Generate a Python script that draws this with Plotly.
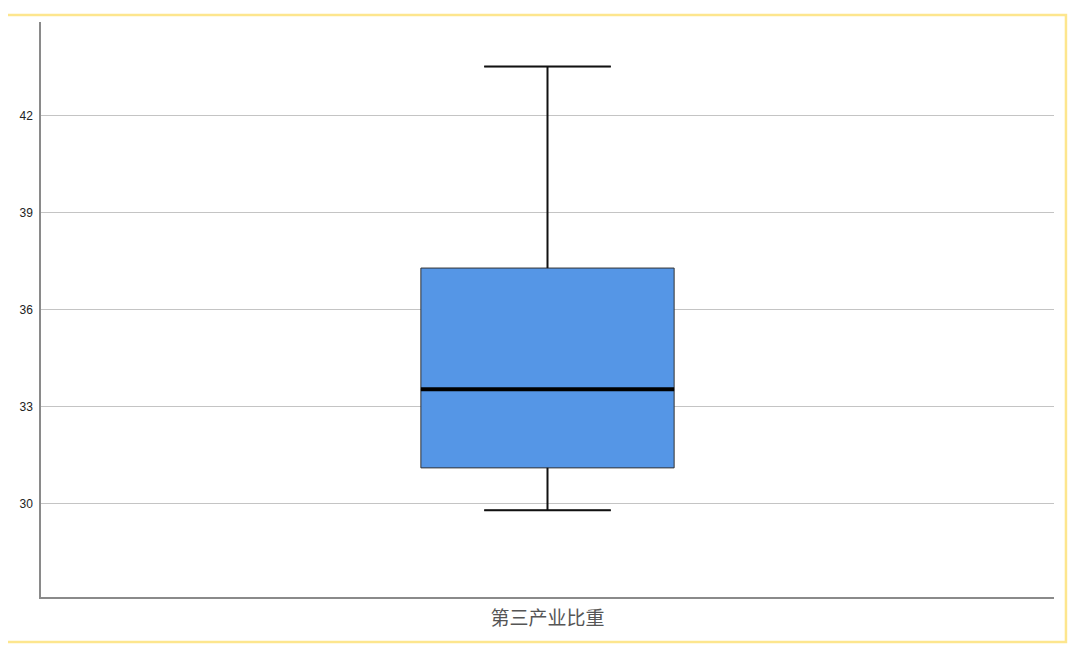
import plotly.graph_objects as go

category = ["第三产业比重"]
q1 = [31.10]
median = [33.53]
q3 = [37.28]
lower_whisker = [29.79]
upper_whisker = [43.51]
y_ticks = [30, 33, 36, 39, 42]

BOX_W = 0.25
CAP_W = BOX_W / 2

fig = go.Figure()
fig.add_trace(go.Box(
    x=[0],
    q1=q1, median=median, q3=q3,
    lowerfence=lower_whisker, upperfence=upper_whisker,
    width=BOX_W, whiskerwidth=0.5,
    fillcolor="#5596E6",
    line=dict(color="#333333", width=1),
    boxpoints=False,
    showlegend=False,
    hoverinfo="skip",
))
# whiskers (thicker, black)
for lo, hi in [(q3[0], upper_whisker[0]), (lower_whisker[0], q1[0])]:
    fig.add_trace(go.Scatter(
        x=[0, 0], y=[lo, hi], mode="lines",
        line=dict(color="#111111", width=2),
        showlegend=False, hoverinfo="skip",
    ))
for v in [upper_whisker[0], lower_whisker[0]]:
    fig.add_trace(go.Scatter(
        x=[-CAP_W / 2, CAP_W / 2], y=[v, v], mode="lines",
        line=dict(color="#111111", width=2),
        showlegend=False, hoverinfo="skip",
    ))
# thick median line overlay
fig.add_trace(go.Scatter(
    x=[-BOX_W / 2, BOX_W / 2], y=[median[0], median[0]],
    mode="lines", line=dict(color="#000000", width=4),
    showlegend=False, hoverinfo="skip",
))

fig.update_layout(
    width=1078, height=640,
    margin=dict(l=33, r=32, t=14, b=51),
    paper_bgcolor="white", plot_bgcolor="white",
    xaxis=dict(
        range=[-0.5, 0.5],
        tickmode="array", tickvals=[0], ticktext=category,
        showgrid=False, zeroline=False,
        showline=True, linecolor="#8a8a8a", linewidth=1.5,
        ticks="", ticklabelstandoff=3,
        tickfont=dict(family="Noto Sans CJK SC", size=19, color="#555555"),
        fixedrange=True,
    ),
    yaxis=dict(
        range=[27.107, 44.89],
        tickmode="array", tickvals=y_ticks,
        showgrid=True, gridcolor="#C4C4C4", gridwidth=1.2,
        zeroline=False,
        showline=True, linecolor="#8a8a8a", linewidth=1.5,
        ticks="", ticklabelstandoff=4,
        tickfont=dict(family="Liberation Sans", size=12, color="#222222"),
        fixedrange=True,
    ),
    shapes=[dict(
        type="rect", xref="paper", yref="paper",
        x0=-0.0385, x1=1.0118, y0=-0.0783, y1=1.0122,
        line=dict(color="#FDE68E", width=2.5), fillcolor="rgba(0,0,0,0)",
        layer="below",
    )],
)

fig.write_html("out.html")
